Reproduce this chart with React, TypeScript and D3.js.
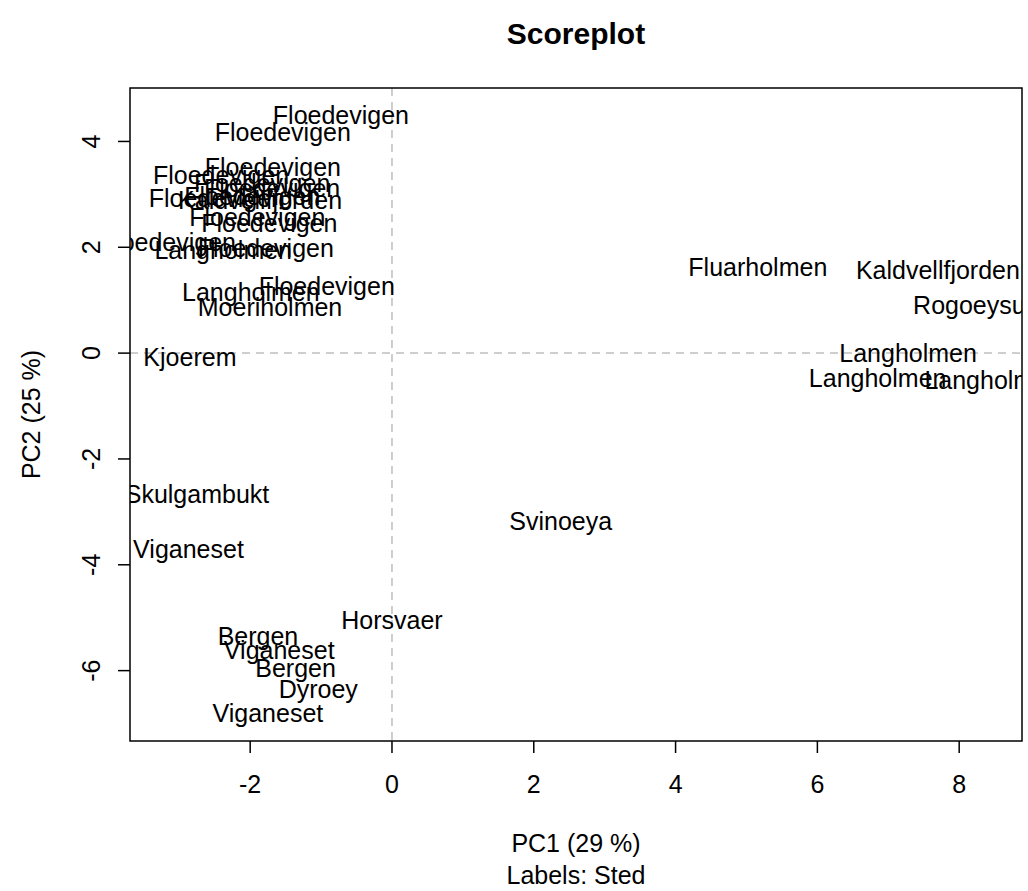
import React from "react";
import * as d3 from "d3";

const labels = [
  "Floedevigen", "Floedevigen", "Floedevigen", "Floedevigen", "Floedevigen",
  "Floedevigen", "Floedevigen", "Kaldvellfjorden", "Floedevigen", "Floedevigen",
  "Floedevigen", "Floedevigen", "Langholmen", "Floedevigen", "Floedevigen",
  "Langholmen", "Moeriholmen", "Kjoerem", "Skulgambukt", "Viganeset",
  "Horsvaer", "Bergen", "Viganeset", "Bergen", "Dyroey",
  "Viganeset", "Svinoeya", "Fluarholmen", "Kaldvellfjorden", "Rogoeysund",
  "Langholmen", "Langholmen", "Langholmen",
];
const pc1 = [
  -0.72, -1.54, -1.68, -2.41, -1.83,
  -1.69, -2.47, -1.86, -1.97, -1.90,
  -1.73, -3.16, -2.38, -1.78, -0.92,
  -1.99, -1.72, -2.85, -2.75, -2.87,
  0.0, -1.89, -1.59, -1.36, -1.04,
  -1.75, 2.38, 5.16, 7.70, 8.34,
  7.28, 6.85, 8.48,
];
const pc2 = [
  4.5, 4.18, 3.52, 3.36, 3.21,
  3.12, 2.93, 2.89, 2.97, 2.57,
  2.46, 2.1, 1.95, 1.98, 1.27,
  1.15, 0.87, -0.08, -2.67, -3.71,
  -5.05, -5.35, -5.61, -5.95, -6.35,
  -6.81, -3.18, 1.63, 1.57, 0.91,
  0.0, -0.47, -0.51,
];
const xTicks = [-2, 0, 2, 4, 6, 8];
const yTicks = [-6, -4, -2, 0, 2, 4];
const title = "Scoreplot";
const xLabel = "PC1 (29 %)";
const yLabel = "PC2 (25 %)";
const subLabel = "Labels: Sted";

export default function App() {
  const W = 1028, H = 891;
  const left = 130, right = 1022, top = 88, bottom = 741;
  const x = d3.scaleLinear().domain([-3.695, 8.886]).range([left, right]);
  const y = d3.scaleLinear().domain([-7.33, 5.01]).range([bottom, top]);
  const font = "'Liberation Sans', Arial, sans-serif";
  const fs = 25;
  return (
    <svg width={W} height={H} style={{ position: "absolute", left: 0, top: 0, background: "#fff" }} fontFamily={font}>
      <defs>
        <clipPath id="plotclip">
          <rect x={left} y={top} width={right - left} height={bottom - top} />
        </clipPath>
      </defs>
      <rect x={0} y={0} width={W} height={H} fill="#fff" />
      <g clipPath="url(#plotclip)">
        <line x1={x(0)} x2={x(0)} y1={top} y2={bottom} stroke="#bebebe" strokeWidth={1.5} strokeDasharray="8,6" />
        <line x1={left} x2={right} y1={y(0)} y2={y(0)} stroke="#bebebe" strokeWidth={1.5} strokeDasharray="8,6" />
        {labels.map((l, i) => (
          <text key={i} x={x(pc1[i])} y={y(pc2[i])} textAnchor="middle" dominantBaseline="central" fontSize={fs} fill="#000">
            {l}
          </text>
        ))}
      </g>
      <rect x={left} y={top} width={right - left} height={bottom - top} fill="none" stroke="#000" strokeWidth={1.5} />
      {xTicks.map((t) => (
        <g key={"x" + t}>
          <line x1={x(t)} x2={x(t)} y1={bottom} y2={bottom + 12} stroke="#000" strokeWidth={1.5} />
          <text x={x(t)} y={bottom + 52} textAnchor="middle" fontSize={fs}>{t}</text>
        </g>
      ))}
      {yTicks.map((t) => (
        <g key={"y" + t}>
          <line x1={left - 12} x2={left} y1={y(t)} y2={y(t)} stroke="#000" strokeWidth={1.5} />
          <text transform={`translate(${left - 30},${y(t)}) rotate(-90)`} textAnchor="middle" fontSize={fs}>{t}</text>
        </g>
      ))}
      <text x={(left + right) / 2} y={44} textAnchor="middle" fontSize={30} fontWeight="bold">{title}</text>
      <text x={(left + right) / 2} y={852} textAnchor="middle" fontSize={fs}>{xLabel}</text>
      <text x={(left + right) / 2} y={884} textAnchor="middle" fontSize={fs}>{subLabel}</text>
      <text transform={`translate(40,${(top + bottom) / 2}) rotate(-90)`} textAnchor="middle" fontSize={fs}>{yLabel}</text>
    </svg>
  );
}
